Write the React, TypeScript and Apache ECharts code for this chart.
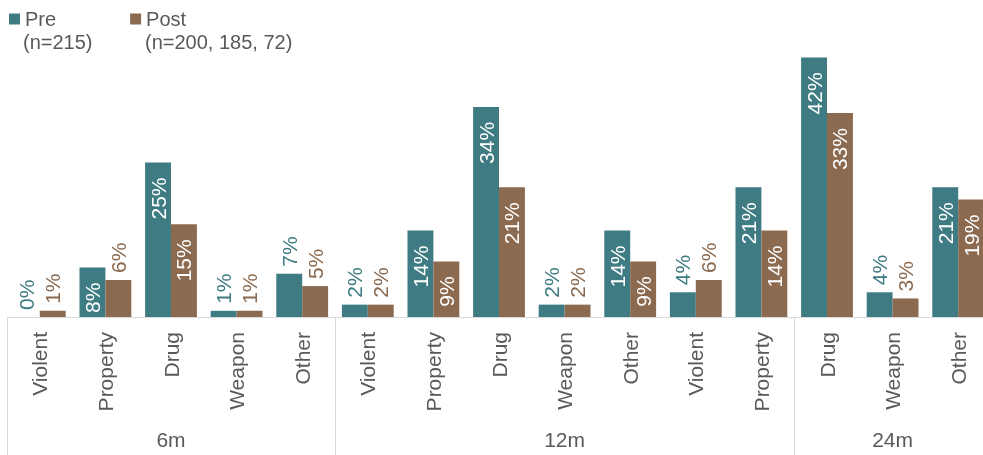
import React, { useEffect, useRef } from "react";
import * as echarts from "echarts";

const categories = ["Violent", "Property", "Drug", "Weapon", "Other", "Violent", "Property", "Drug", "Weapon", "Other", "Violent", "Property", "Drug", "Weapon", "Other"];
const groupLabels = ["", "", "6m", "", "", "", "", "", "12m", "", "", "", "", "24m", ""];
const groupStarts = [0, 5, 12];
const preValues = [0, 8, 25, 1, 7, 2, 14, 34, 2, 14, 4, 21, 42, 4, 21];
const postValues = [1, 6, 15, 1, 5, 2, 9, 21, 2, 9, 6, 14, 33, 3, 19];
const seriesNames = ["Pre", "Post"];
const seriesNotes = ["(n=215)", "(n=200, 185, 72)"];

const TEAL = "#3f7b82";
const BROWN = "#8b6a50";
const GREY = "#595959";
const LINE = "#d9d9d9";
const FONT = "'Liberation Sans', Arial, sans-serif";

function buildData(values: number[], color: string) {
  return values.map((v) =>
    v >= 8
      ? { value: v }
      : {
          value: v,
          label: {
            position: "top",
            align: "left",
            verticalAlign: "middle",
            distance: 7,
            color,
          },
        }
  );
}

export default function App() {
  const ref = useRef<HTMLDivElement>(null);
  useEffect(() => {
    if (!ref.current) return;
    const chart = echarts.init(ref.current, null, { renderer: "svg" });
    const insideLabel = {
      show: true,
      position: "insideTop",
      rotate: 90,
      align: "right",
      verticalAlign: "middle",
      distance: 15,
      color: "#ffffff",
      fontSize: 21,
      fontFamily: FONT,
      formatter: "{c}%",
    };
    chart.setOption({
      animation: false,
      textStyle: { fontFamily: FONT },
      legend: {
        left: 9,
        top: 9,
        padding: 0,
        icon: "rect",
        itemWidth: 11,
        itemHeight: 11,
        itemGap: 74,
        textStyle: { fontSize: 20, color: GREY, fontFamily: FONT },
        data: seriesNames,
      },
      graphic: [
        { type: "text", x: 23, y: 42, style: { text: seriesNotes[0], fontSize: 20, fill: GREY, fontFamily: FONT, verticalAlign: "middle" } },
        { type: "text", x: 145, y: 42, style: { text: seriesNotes[1], fontSize: 20, fill: GREY, fontFamily: FONT, verticalAlign: "middle" } },
      ],
      grid: { left: 7, right: 0, top: 8, bottom: 138 },
      xAxis: [
        {
          type: "category",
          data: categories,
          axisLine: { show: true, lineStyle: { color: LINE, width: 1 } },
          axisTick: { show: false },
          axisLabel: {
            interval: 0,
            rotate: 90,
            margin: 15,
            fontSize: 21,
            color: GREY,
            fontFamily: FONT,
          },
        },
        {
          type: "category",
          data: groupLabels,
          position: "bottom",
          axisLine: { show: false },
          axisTick: {
            show: true,
            length: 140,
            interval: (index: number) => groupStarts.includes(index),
            lineStyle: { color: LINE, width: 1 },
          },
          axisLabel: {
            interval: 0,
            margin: 112,
            fontSize: 21,
            color: GREY,
            fontFamily: FONT,
          },
        },
      ],
      yAxis: { type: "value", min: 0, max: 50, show: false },
      series: [
        {
          name: seriesNames[0],
          type: "bar",
          xAxisIndex: 0,
          barGap: "0%",
          barCategoryGap: "21%",
          itemStyle: { color: TEAL },
          label: insideLabel,
          data: buildData(preValues, TEAL),
        },
        {
          name: seriesNames[1],
          type: "bar",
          xAxisIndex: 0,
          barGap: "0%",
          barCategoryGap: "21%",
          itemStyle: { color: BROWN },
          label: insideLabel,
          data: buildData(postValues, BROWN),
        },
      ],
    });
    return () => chart.dispose();
  }, []);
  return (
    <div style={{ position: "fixed", left: 0, top: 0, width: 983, height: 455, overflow: "hidden" }}>
      <div ref={ref} style={{ width: 991, height: 455 }} />
    </div>
  );
}
